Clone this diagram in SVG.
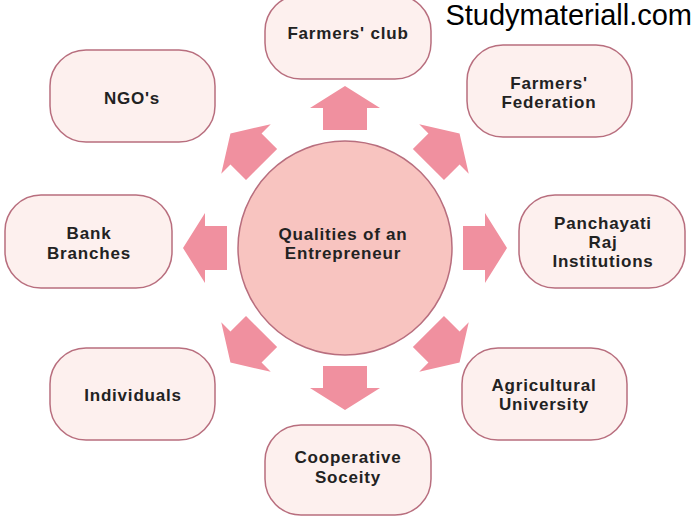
<svg xmlns="http://www.w3.org/2000/svg" width="694" height="520" viewBox="0 0 694 520">
<style>
.b{fill:#fdf0ee;stroke:#b86e7e;stroke-width:1.5}
.t{font-family:"Liberation Sans",Arial,sans-serif;font-weight:bold;font-size:17px;fill:#222;text-anchor:middle;letter-spacing:0.8px}
.a{fill:#f0909f}
</style>
<defs><polygon id="arr" points="0,-162 35,-140 22,-140 22,-118 -22,-118 -22,-140 -35,-140"/></defs>
<rect width="694" height="520" fill="#fff"/>
<g id="connectors">
<use href="#arr" class="a" transform="translate(345,248)"/>
<use href="#arr" class="a" transform="translate(345,248) rotate(45)"/>
<use href="#arr" class="a" transform="translate(345,248) rotate(90)"/>
<use href="#arr" class="a" transform="translate(345,248) rotate(135)"/>
<use href="#arr" class="a" transform="translate(345,248) rotate(180)"/>
<use href="#arr" class="a" transform="translate(345,248) rotate(225)"/>
<use href="#arr" class="a" transform="translate(345,248) rotate(270)"/>
<use href="#arr" class="a" transform="translate(345,248) rotate(315)"/>
</g>
<g id="center"><circle cx="345" cy="248" r="107" fill="#f8c4c0" stroke="#b86e7e" stroke-width="1.5"/>
<text class="t" x="343" y="240">Qualities of an</text><text class="t" x="343" y="259">Entrepreneur</text></g>
<g id="club"><rect class="b" x="265" y="-5" width="166" height="84" rx="36"/><text class="t" x="348" y="39">Farmers' club</text></g>
<g id="ngo"><rect class="b" x="50" y="50" width="165" height="92" rx="36"/><text class="t" x="132" y="104">NGO's</text></g>
<g id="fed"><rect class="b" x="467" y="45" width="165" height="92" rx="36"/><text class="t" x="549" y="89">Farmers'</text><text class="t" x="549" y="108">Federation</text></g>
<g id="bank"><rect class="b" x="5" y="195" width="167" height="93" rx="36"/><text class="t" x="89" y="239">Bank</text><text class="t" x="89" y="259">Branches</text></g>
<g id="pr"><rect class="b" x="519" y="195" width="166" height="93" rx="36"/><text class="t" x="603" y="229">Panchayati</text><text class="t" x="603" y="248">Raj</text><text class="t" x="603" y="267">Institutions</text></g>
<g id="ind"><rect class="b" x="50" y="348" width="165" height="92" rx="36"/><text class="t" x="133" y="401">Individuals</text></g>
<g id="agri"><rect class="b" x="462" y="348" width="165" height="92" rx="36"/><text class="t" x="544" y="391">Agricultural</text><text class="t" x="544" y="410">University</text></g>
<g id="coop"><rect class="b" x="265" y="425" width="166" height="90" rx="36"/><text class="t" x="348" y="463">Cooperative</text><text class="t" x="348" y="483">Soceity</text></g>
<text x="692" y="25" font-family="Liberation Sans,Arial,sans-serif" font-size="29" text-anchor="end" fill="#000">Studymateriall.com</text>
</svg>
